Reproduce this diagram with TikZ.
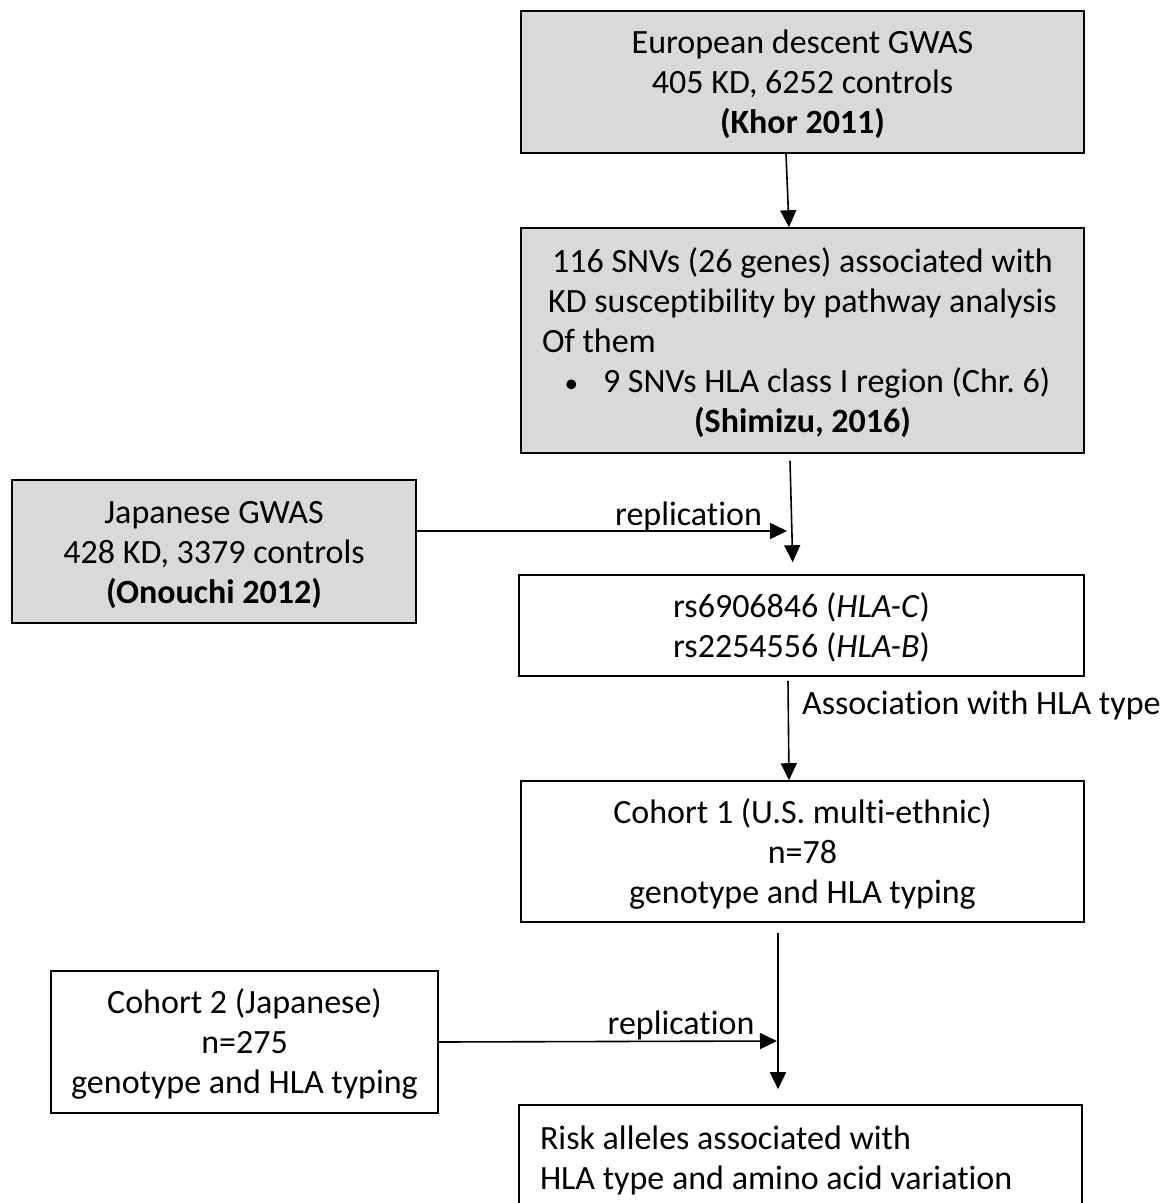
\documentclass[tikz,border=0pt]{standalone}
\usepackage{fontspec}
\setmainfont[Ligatures=CommonOff]{Carlito}
\usetikzlibrary{arrows.meta,calc}
\newcommand\topstrut{\rule{0pt}{29pt}}
\frenchspacing
\begin{document}
\begin{tikzpicture}[x=1pt,y=-1pt,
  every node/.style={font=\fontsize{34}{40}\selectfont\frenchspacing, inner sep=0pt},
  graybox/.style={draw=black, line width=1.6pt, fill=black!15, align=center},
  whitebox/.style={draw=black, line width=1.6pt, fill=white, align=center},
  arr/.style={line width=1.6pt, -{Triangle[length=17pt,width=16pt]}},
  lbl/.style={font=\fontsize{34}{40}\selectfont}
]
\useasboundingbox (0,0) rectangle (1170,1203);
\clip (0,0) rectangle (1170,1203);
\fill[white] (0,0) rectangle (1170,1203);

\node[graybox, minimum width=563pt, minimum height=142pt] (A) at (802.5,82)
  {\topstrut European descent GWAS\\405 KD, 6252 controls\\\textbf{(Khor 2011)}};

\node[graybox, minimum width=563pt, minimum height=225pt, text width=540pt, align=flush center] (B) at (802.5,340.5)
  {\topstrut 116 SNVs (26 genes) associated with\\
   KD susceptibility by pathway analysis\\
   \makebox[540pt][l]{\hspace{9.5pt}Of them}\\
   \makebox[540pt][l]{\hspace{32pt}\makebox[38.5pt][l]{\scalebox{0.8}{•}}9 SNVs HLA class I region (Chr. 6)}\\
   \textbf{(Shimizu, 2016)}};

\node[graybox, minimum width=404pt, minimum height=143pt] (J) at (214,551.5)
  {\topstrut Japanese GWAS\\428 KD, 3379 controls\\\textbf{(Onouchi 2012)}};

\node[whitebox, minimum width=565pt, minimum height=101pt] (C) at (801.5,625.5)
  {\topstrut rs6906846 (\textit{HLA-C})\\rs2254556 (\textit{HLA-B})};

\node[whitebox, minimum width=563pt, minimum height=141pt] (D) at (802.5,851.5)
  {\topstrut Cohort 1 (U.S. multi-ethnic)\\n=78\\genotype and HLA typing};

\node[whitebox, minimum width=387pt, minimum height=142pt] (E) at (244.5,1042)
  {\topstrut Cohort 2 (Japanese)\\n=275\\genotype and HLA typing};

\node[whitebox, minimum width=563pt, minimum height=106pt, text width=521pt, align=flush left] (F) at (800.5,1158)
  {\topstrut Risk alleles associated with\\HLA type and amino acid variation};

% connectors
\draw[arr] ([xshift=-16.5pt]A.south) -- ([xshift=-13.5pt]B.north);
\draw[arr] ($(B.south)+(-12.5,7)$) -- ($(C.north)+(-8.8,-12)$);
\coordinate (m1) at (787,531);
\draw[arr] ($(J.east)+(0,-20.5)$) -- (m1);
\draw[arr] ($(C.south)+(-13.5,4)$) -- ($(D.north)+(-13.5,0)$);
\draw[arr] ($(D.south)+(-24.5,10)$) -- ($(F.north)+(-22.5,-15)$);
\coordinate (m2) at (777,1041);
\draw[arr] (E.east) -- (m2);

% labels
\node[lbl] (r1) at (688.5,516) {replication};
\node[lbl, anchor=west] (as) at (802,705) {Association with HLA type};
\node[lbl] (r2) at (681,1025) {replication};
\end{tikzpicture}
\end{document}
